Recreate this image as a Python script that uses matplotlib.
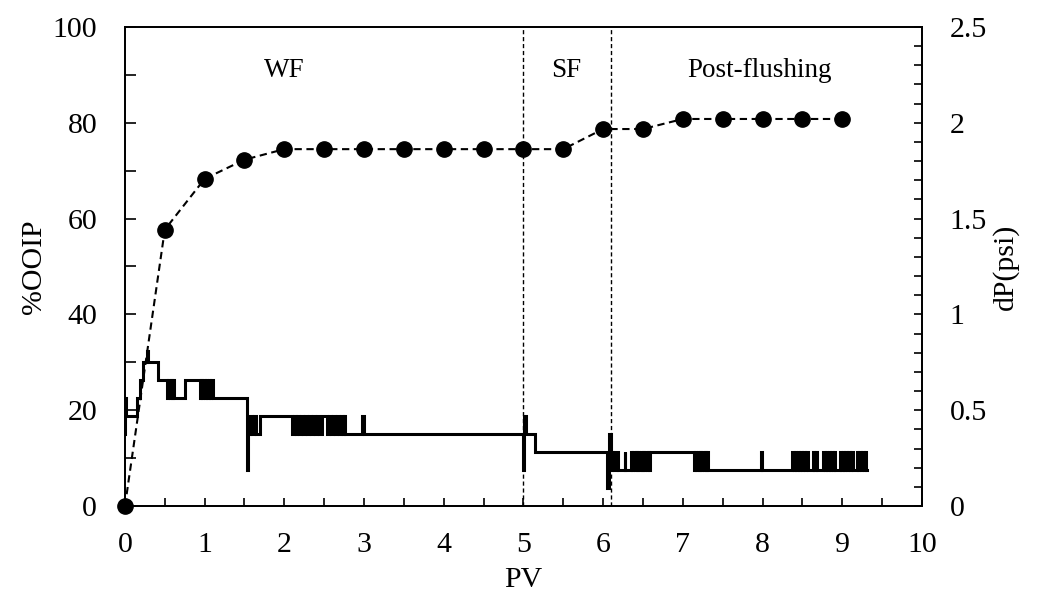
import matplotlib
matplotlib.use("Agg")
import matplotlib.pyplot as plt
from matplotlib.ticker import MultipleLocator, FuncFormatter

plt.rcParams['font.family'] = ['Liberation Serif', 'DejaVu Serif']
plt.rcParams['font.size'] = 21.5

# Cumulative oil recovery (%OOIP) vs injected pore volumes
pv_rec = [0, 0.5, 1, 1.5, 2, 2.5, 3, 3.5, 4, 4.5, 5, 5.5, 6, 6.5, 7, 7.5, 8, 8.5, 9]
ooip = [0, 57.7, 68.3, 72.3, 74.5, 74.5, 74.5, 74.5, 74.5, 74.5, 74.5, 74.5,
        78.7, 78.7, 80.8, 80.8, 80.8, 80.8, 80.8]

# Differential pressure record (psi), step changes at the listed PV
dp_pv = [
    0.000, 0.004, 0.008, 0.150, 0.195, 0.230, 0.275, 0.285, 0.410,
    0.530, 0.545, 0.560, 0.575, 0.590, 0.605, 0.620, 0.750,
    0.940, 0.955, 0.970, 0.985, 1.000, 1.020, 1.035, 1.050, 1.065, 1.080, 1.100,
    1.530, 1.545, 1.570, 1.600, 1.625, 1.650, 1.690,
    2.090, 2.115, 2.140, 2.165, 2.190, 2.215, 2.240, 2.265, 2.290, 2.315,
    2.340, 2.365, 2.390, 2.415, 2.440, 2.470,
    2.530, 2.555, 2.580, 2.605, 2.630, 2.655, 2.680, 2.705, 2.730, 2.745, 2.760,
    2.975, 2.995,
    5.000, 5.012, 5.030, 5.150,
    6.050, 6.080, 6.100, 6.110, 6.120, 6.130, 6.140, 6.180, 6.190,
    6.270, 6.280, 6.350, 6.365, 6.380, 6.395, 6.410, 6.425, 6.440, 6.455,
    6.470, 6.485, 6.500, 6.515, 6.530, 6.545, 6.560, 6.575, 6.590,
    7.140, 7.155, 7.170, 7.185, 7.200, 7.215, 7.230, 7.245, 7.260, 7.275,
    7.290, 7.305, 7.320,
    7.980, 7.995,
    8.370, 8.390, 8.405, 8.425, 8.440, 8.460, 8.475, 8.495, 8.510, 8.530,
    8.545, 8.565,
    8.630, 8.650, 8.665, 8.685, 8.700,
    8.760, 8.780, 8.795, 8.815, 8.830, 8.850, 8.865, 8.885, 8.900, 8.910,
    8.970, 8.990, 9.005, 9.025, 9.040, 9.060, 9.075, 9.095, 9.110, 9.130,
    9.180, 9.200, 9.215, 9.235, 9.250, 9.270, 9.285, 9.300, 9.310,
]
dp_psi = [
    0.375, 0.563, 0.469, 0.563, 0.656, 0.750, 0.810, 0.750, 0.656,
    0.563, 0.656, 0.563, 0.656, 0.563, 0.656, 0.563, 0.656,
    0.563, 0.656, 0.563, 0.656, 0.563, 0.656, 0.563, 0.656, 0.563, 0.656, 0.563,
    0.188, 0.375, 0.469, 0.375, 0.469, 0.375, 0.469,
    0.375, 0.469, 0.375, 0.469, 0.375, 0.469, 0.375, 0.469, 0.375, 0.469,
    0.375, 0.469, 0.375, 0.469, 0.375, 0.469,
    0.375, 0.469, 0.375, 0.469, 0.375, 0.469, 0.375, 0.469, 0.375, 0.469, 0.375,
    0.469, 0.375,
    0.188, 0.469, 0.375, 0.281,
    0.094, 0.375, 0.188, 0.281, 0.188, 0.281, 0.188, 0.281, 0.188,
    0.281, 0.188, 0.281, 0.188, 0.281, 0.188, 0.281, 0.188, 0.281, 0.188,
    0.281, 0.188, 0.281, 0.188, 0.281, 0.188, 0.281, 0.188, 0.281,
    0.188, 0.281, 0.188, 0.281, 0.188, 0.281, 0.188, 0.281, 0.188, 0.281,
    0.188, 0.281, 0.188,
    0.281, 0.188,
    0.281, 0.188, 0.281, 0.188, 0.281, 0.188, 0.281, 0.188, 0.281, 0.188,
    0.281, 0.188,
    0.281, 0.188, 0.281, 0.188, 0.188,
    0.281, 0.188, 0.281, 0.188, 0.281, 0.188, 0.281, 0.188, 0.281, 0.188,
    0.281, 0.188, 0.281, 0.188, 0.281, 0.188, 0.281, 0.188, 0.281, 0.188,
    0.281, 0.188, 0.281, 0.188, 0.281, 0.188, 0.281, 0.188, 0.188,
]

stage_bounds = [5.0, 6.1]
stage_names = ["WF", "SF", "Post-flushing"]
stage_x = [2.0, 5.54, 7.96]

fig = plt.figure(figsize=(10.37, 5.99), dpi=100)
ax = fig.add_axes([0.1205, 0.1553, 0.7685, 0.7996])
ax2 = ax.twinx()

ax.plot(pv_rec, ooip, color='black', lw=1.5, ls=(0, (3.5, 2.2)),
        marker='o', markersize=11, markerfacecolor='black', markeredgecolor='black',
        clip_on=False, zorder=5)

ax2.plot(dp_pv, dp_psi, color='black', lw=2.2, drawstyle='steps-post',
         solid_joinstyle='miter')

for xb in stage_bounds:
    ax.axvline(xb, color='black', lw=1.0, ls=(0, (3, 2)))

for name, xs in zip(stage_names, stage_x):
    ax.text(xs, 91, name, ha='center', va='center', fontsize=19.5)

ax.set_xlim(0, 10)
ax.set_ylim(0, 100)
ax2.set_ylim(0, 2.5)

ax.xaxis.set_major_locator(MultipleLocator(1))
ax.xaxis.set_minor_locator(MultipleLocator(0.5))
ax.yaxis.set_major_locator(MultipleLocator(20))
ax.yaxis.set_minor_locator(MultipleLocator(10))
ax2.yaxis.set_major_locator(MultipleLocator(0.5))
ax2.yaxis.set_minor_locator(MultipleLocator(0.1))
ax2.yaxis.set_major_formatter(FuncFormatter(lambda v, p: f"{v:g}"))

ax.tick_params(axis='x', which='both', direction='in', length=6, width=1.2, pad=19)
ax.tick_params(axis='y', which='both', direction='in', length=8, width=1.2, pad=20)
ax2.tick_params(axis='y', which='both', direction='in', length=6, width=1.2, pad=20)

for a in (ax, ax2):
    for s in a.spines.values():
        s.set_linewidth(1.3)

ax.set_xlabel("PV", fontsize=21.5)
ax.set_ylabel("%OOIP", fontsize=21.5)
ax2.set_ylabel("dP(psi)", fontsize=21.5)
ax.xaxis.set_label_coords(0.5, -0.128)
ax.yaxis.set_label_coords(-0.098, 0.5)
ax2.yaxis.set_label_coords(1.088, 0.5)

fig.savefig("out.png", dpi=100)
